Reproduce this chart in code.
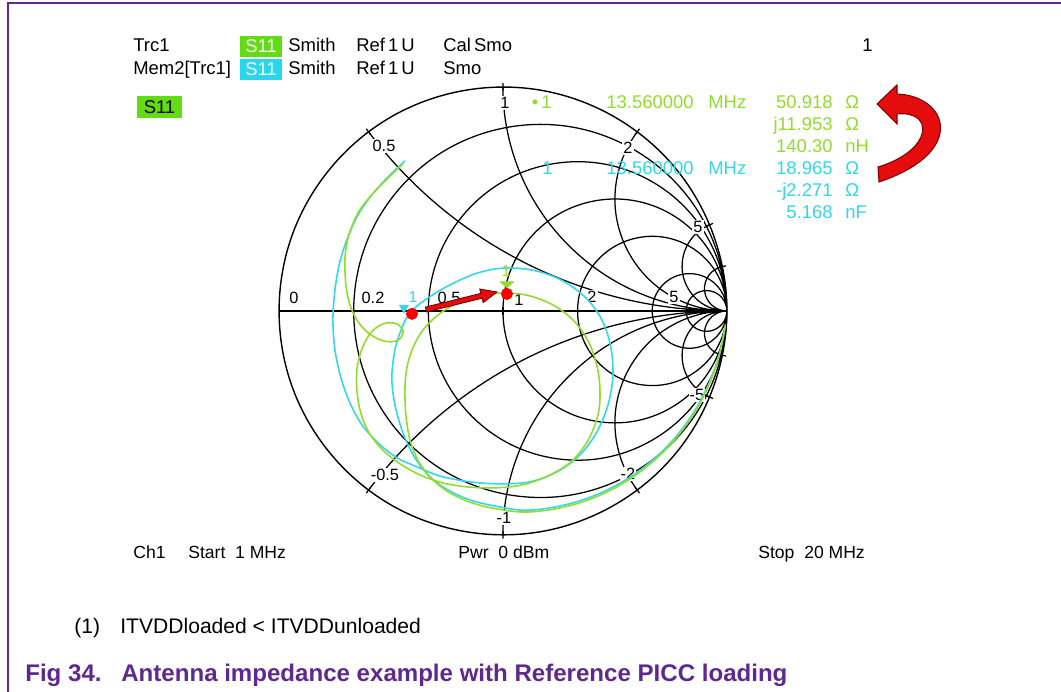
\documentclass[border=0pt]{standalone}
\usepackage{fontspec}
\setmainfont{Liberation Sans}
\usepackage{pgfplots}
\pgfplotsset{compat=1.18}
\usepgfplotslibrary{smithchart}
\definecolor{trcgreen}{RGB}{145,220,45}
\definecolor{trccyan}{RGB}{50,215,235}
\definecolor{badgegreen}{RGB}{100,220,20}
\definecolor{badgecyan}{RGB}{40,215,235}
\definecolor{nxppurple}{RGB}{95,40,145}
\definecolor{arrowred}{RGB}{228,12,12}
\definecolor{arrowdark}{RGB}{125,0,0}
\newcommand{\fs}[1]{\fontsize{#1}{#1}\selectfont}

\begin{document}
\begin{tikzpicture}
\begin{scope}[x=0.02cm,y=-0.02cm]
\useasboundingbox (0,0) rectangle (1061,692);
\draw[nxppurple, line width=1.2pt] (8,692) -- (8,3) -- (1061,3);
\end{scope}

% grid of the Smith chart
\begin{smithchart}[
  at={(10.06cm,-6.22cm)}, anchor=center,
  scale only axis, width=8.96cm, height=8.96cm,
  xtick={0.2,0.5,1,2,5,10},
  ytick={-10,-5,-2,-1,-0.5,0.5,1,2,5,10},
  minor xtick={}, minor ytick={},
  xticklabel=\empty, yticklabel=\empty,
  grid=major,
  major grid style={black, line width=0.72pt},
  axis line style={black, line width=0.8pt},
  tick style={black, line width=0.7pt},
]
\end{smithchart}

\begin{scope}[x=0.02cm,y=-0.02cm,
  lab/.style={font=\fs{9.3}, fill=white, inner sep=0.6pt}]
\node[lab] at (294,298) {0};
\node[lab] at (373,298) {0.2};
\node[lab] at (449,298) {0.5};
\node[lab] at (519,300) {1};
\node[lab] at (592,297) {2};
\node[lab] at (674,297) {5};
\node[lab] at (384,146) {0.5};
\node[lab] at (505,103) {1};
\node[lab] at (628,148) {2};
\node[lab] at (698,227) {5};
\node[lab] at (385,475) {-0.5};
\node[lab] at (504,518) {-1};
\node[lab] at (628,474) {-2};
\node[lab] at (697,395) {-5};
\end{scope}

% traces
\begin{smithchart}[
  at={(10.06cm,-6.22cm)}, anchor=center,
  scale only axis, width=8.96cm, height=8.96cm,
  hide axis,
]
% Mem2[Trc1], unloaded
\addplot[is smithchart cs, trccyan, line width=0.9pt, smooth, tension=0.55] coordinates {
(0.993,-0.069) (0.963,-0.205) (0.916,-0.333) (0.852,-0.453) (0.773,-0.561)
(0.680,-0.656) (0.576,-0.737) (0.4625,-0.801) (0.343,-0.848) (0.219,-0.878)
(0.094,-0.890) (-0.036,-0.871) (-0.147,-0.844) (-0.246,-0.799) (-0.326,-0.741)
(-0.393,-0.656) (-0.446,-0.545) (-0.482,-0.420) (-0.496,-0.299) (-0.482,-0.174)
(-0.451,-0.076) (-0.415,-0.009) (-0.348,0.049) (-0.237,0.116) (-0.112,0.170)
(0.013,0.192) (0.147,0.179) (0.268,0.134) (0.371,0.058) (0.442,-0.040)
(0.482,-0.161) (0.491,-0.295) (0.469,-0.420) (0.420,-0.540) (0.344,-0.643)
(0.241,-0.719) (0.121,-0.763) (-0.013,-0.772) (-0.147,-0.763) (-0.281,-0.737)
(-0.393,-0.692) (-0.473,-0.656) (-0.558,-0.589) (-0.629,-0.509) (-0.683,-0.411)
(-0.723,-0.299) (-0.750,-0.174) (-0.759,-0.040) (-0.750,0.094) (-0.728,0.219)
(-0.692,0.330) (-0.647,0.429) (-0.589,0.513) (-0.522,0.589) (-0.4375,0.670)
};
% Trc1, loaded with reference PICC
\addplot[is smithchart cs, trcgreen, line width=0.9pt, smooth, tension=0.55] coordinates {
(0.994,-0.060) (0.966,-0.200) (0.920,-0.330) (0.857,-0.452) (0.778,-0.562)
(0.685,-0.659) (0.580,-0.742) (0.466,-0.808) (0.346,-0.856) (0.221,-0.886)
(0.095,-0.898) (-0.027,-0.884) (-0.138,-0.857) (-0.237,-0.8125) (-0.317,-0.750)
(-0.375,-0.674) (-0.415,-0.576) (-0.433,-0.464) (-0.4375,-0.353) (-0.429,-0.254)
(-0.402,-0.165) (-0.357,-0.085) (-0.290,-0.018) (-0.201,0.036) (-0.094,0.071)
(0.018,0.080) (0.121,0.067) (0.232,0.022) (0.326,-0.054) (0.393,-0.161)
(0.429,-0.295) (0.429,-0.442) (0.384,-0.571) (0.308,-0.670) (0.201,-0.737)
(0.085,-0.777) (-0.036,-0.790) (-0.156,-0.786) (-0.268,-0.768) (-0.379,-0.728)
(-0.478,-0.670) (-0.554,-0.603) (-0.607,-0.527) (-0.638,-0.442) (-0.652,-0.353)
(-0.652,-0.263) (-0.634,-0.183) (-0.603,-0.116) (-0.567,-0.076) (-0.522,-0.054)
(-0.473,-0.058) (-0.446,-0.089) (-0.460,-0.125) (-0.504,-0.138) (-0.558,-0.125)
(-0.612,-0.089) (-0.652,-0.040) (-0.683,0.027) (-0.701,0.116) (-0.705,0.237)
(-0.688,0.339) (-0.647,0.4375) (-0.594,0.509) (-0.522,0.585) (-0.446,0.656)
};
% markers at 13.56 MHz
\addplot[is smithchart cs, only marks, mark=triangle*, mark size=2.8pt,
  mark options={rotate=180, fill=trccyan, draw=trccyan}] coordinates {(-0.442,0.013)};
\addplot[is smithchart cs, only marks, mark=triangle*, mark size=4.4pt,
  mark options={rotate=180, yscale=0.55, fill=trcgreen, draw=trcgreen}] coordinates {(0.018,0.121)};
\addplot[is smithchart cs, only marks, mark=*, mark size=3.2pt,
  mark options={fill=red, draw=red}] coordinates {(-0.406,-0.013) (0.018,0.076)};
\end{smithchart}

\begin{scope}[x=0.02cm,y=-0.02cm]
% marker numbers on the traces
\node[font=\fs{9}, text=trccyan] at (413,297) {1};
\node[font=\fs{9}, text=trcgreen] at (506,271) {1};
% red arrow loaded -> unloaded
\filldraw[fill=arrowred, draw=arrowdark, line width=0.5pt]
  (425.4,307.1) -- (480.9,293.4) -- (479.8,289.0) -- (497,292) -- (483.2,302.6)
  -- (482.1,298.2) -- (426.6,311.9) -- cycle;
% curved arrow beside the readout
\filldraw[fill=arrowred, draw=arrowdark, line width=0.6pt]
  (877,104) -- (897,85) -- (897,94) .. controls (948,96) and (968,152) .. (879,182)
  -- (878,167) .. controls (934,150) and (934,110) .. (897,114) -- (897,124) -- cycle;

% header
\begin{scope}[every node/.style={font=\fs{10.5}, anchor=base west, inner sep=0}]
\node at (133,52) {Trc1};
\node at (288,52) {Smith};
\node at (356,52) {Ref\,1\,U};
\node at (443,52) {Cal\,Smo};
\node at (862,52) {1};
\node at (133,75) {Mem2[Trc1]};
\node at (288,75) {Smith};
\node at (356,75) {Ref\,1\,U};
\node at (443,75) {Smo};
\end{scope}
\node[fill=badgegreen, text=white, font=\fs{10.5}, minimum width=0.84cm,
  minimum height=0.42cm, inner sep=0] at (261,46.5) {S11};
\node[fill=badgecyan, text=white, font=\fs{10.5}, minimum width=0.84cm,
  minimum height=0.42cm, inner sep=0] at (261,69.5) {S11};
\node[fill=badgegreen, text=black, font=\fs{10.5}, minimum width=0.9cm,
  minimum height=0.44cm, inner sep=0] at (159.5,107) {S11};

% marker readout
\begin{scope}[every node/.style={font=\fs{10.5}, inner sep=0}]
\node[anchor=base east, text=trcgreen] at (552,109) {\textbullet\,1};
\node[anchor=base west, text=trcgreen] at (606,109) {13.560000};
\node[anchor=base west, text=trcgreen] at (708,109) {MHz};
\node[anchor=base east, text=trcgreen] at (833,109) {50.918};
\node[anchor=base west, text=trcgreen] at (845,109) {Ω};
\node[anchor=base east, text=trcgreen] at (833,131) {j11.953};
\node[anchor=base west, text=trcgreen] at (845,131) {Ω};
\node[anchor=base east, text=trcgreen] at (833,153) {140.30};
\node[anchor=base west, text=trcgreen] at (845,153) {nH};
\node[anchor=base east, text=trccyan] at (553,175) {1};
\node[anchor=base west, text=trccyan] at (606,175) {13.560000};
\node[anchor=base west, text=trccyan] at (708,175) {MHz};
\node[anchor=base east, text=trccyan] at (833,175) {18.965};
\node[anchor=base west, text=trccyan] at (845,175) {Ω};
\node[anchor=base east, text=trccyan] at (833,197) {-j2.271};
\node[anchor=base west, text=trccyan] at (845,197) {Ω};
\node[anchor=base east, text=trccyan] at (833,219) {5.168};
\node[anchor=base west, text=trccyan] at (845,219) {nF};
\end{scope}

% footer of the analyser screen
\begin{scope}[every node/.style={font=\fs{10}, anchor=base west, inner sep=0}]
\node at (133,558) {Ch1};
\node at (188,558) {Start\ \ 1 MHz};
\node at (458,558) {Pwr\ \ 0 dBm};
\node at (758,558) {Stop\ \ 20 MHz};
\end{scope}

\node[font=\fs{12}, anchor=base west, inner sep=0] at (74,633) {(1)};
\node[font=\fs{12}, anchor=base west, inner sep=0] at (120,633) {ITVDDloaded < ITVDDunloaded};
\node[font=\bfseries\fs{13.7}, text=nxppurple, anchor=base west, inner sep=0] at (25,681) {Fig 34.};
\node[font=\bfseries\fs{13.7}, text=nxppurple, anchor=base west, inner sep=0] at (121,681) {Antenna impedance example with Reference PICC loading};
\end{scope}
\end{tikzpicture}
\end{document}
